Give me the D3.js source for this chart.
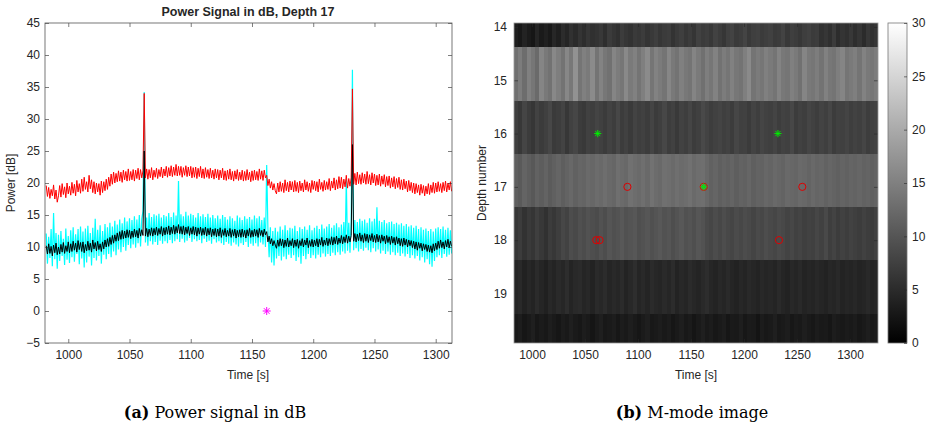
<!DOCTYPE html>
<html lang="en">
<head>
<meta charset="UTF-8">
<title>Power signal and M-mode image</title>
<script src="https://cdn.jsdelivr.net/npm/d3@7"></script>
<style>
  body { margin: 0; background: #fff; }
  svg text { font-family: 'Liberation Sans', Arial, sans-serif; fill: #262626; }
  .caption { font-family: 'DejaVu Serif', serif; font-size: 16px; }
  svg .caption { fill: #000; }
</style>
</head>
<body>
<svg id="chart" width="927" height="426"></svg>
<script>
// ---- left panel: power at depth 17, one sample per second from 982 s
const sampleStart = 982, sampleStep = 1;
const redPower = [
  19.6,17.9,19.3,17.6,19.0,18.0,19.7,17.5,18.9,17.0,
  18.0,19.6,17.8,19.9,18.2,19.4,17.7,20.0,18.3,19.5,
  18.1,20.1,18.4,19.8,18.0,20.4,18.6,19.9,18.4,20.6,
  18.7,20.9,19.0,20.2,18.6,21.2,19.1,20.5,18.5,20.2,
  18.3,20.0,18.6,19.9,18.1,20.3,18.5,20.2,18.8,20.6,
  19.0,20.9,19.5,21.4,19.8,21.7,20.0,21.5,20.2,21.9,
  20.3,21.7,20.1,22.0,20.5,21.8,20.3,22.2,20.4,21.8,
  20.5,22.1,20.3,22.0,20.7,22.3,20.5,22.1,20.8,21.9,
  34.0,20.8,22.2,20.6,22.1,20.8,22.4,20.5,22.0,20.9,
  22.3,20.7,22.1,21.0,22.5,20.8,22.2,21.1,22.6,20.9,
  22.4,21.1,22.7,21.0,22.5,21.2,22.9,21.1,22.6,21.2,
  22.6,20.9,22.4,21.2,22.7,21.0,22.5,21.1,22.6,20.8,
  22.4,20.9,22.5,20.7,22.3,21.0,22.6,20.8,22.2,20.7,
  22.4,20.9,22.1,20.7,22.3,20.8,22.0,20.6,22.2,20.8,
  22.1,20.5,22.0,20.8,22.3,20.5,21.9,20.4,22.0,20.6,
  22.2,20.5,21.8,20.3,21.9,20.6,22.1,20.4,21.7,20.5,
  22.0,20.3,21.8,20.4,22.1,20.5,21.7,20.2,21.9,20.4,
  22.0,20.5,21.8,20.4,22.2,20.6,21.9,20.4,22.0,20.8,
  21.2,19.6,20.6,19.2,20.2,18.9,19.9,18.8,18.3,20.0,
  18.6,20.2,18.7,20.0,18.5,20.5,18.8,20.1,18.6,20.3,
  18.9,20.2,18.6,20.4,18.7,20.1,18.5,20.3,18.8,20.0,
  18.6,20.5,18.9,20.2,18.7,20.0,18.5,20.4,19.0,20.3,
  18.8,20.2,18.6,20.6,19.0,20.1,18.7,20.4,18.9,20.2,
  19.0,20.7,18.8,20.3,19.2,20.8,18.9,20.5,19.1,21.0,
  19.2,20.9,19.1,20.6,19.4,21.2,19.2,20.7,19.5,20.8,
  34.7,19.8,21.5,19.7,21.7,19.9,21.3,19.8,21.6,20.0,
  21.4,19.8,21.8,19.9,21.3,19.7,21.6,20.0,21.4,19.6,
  21.2,19.7,21.4,19.5,21.1,19.8,21.3,19.4,21.0,19.6,
  21.1,19.2,20.8,19.4,21.0,19.1,20.7,19.3,20.9,19.0,
  20.5,18.9,20.6,19.1,20.3,18.6,20.4,18.8,20.1,18.5,
  20.0,18.3,19.9,18.5,19.7,18.1,19.8,18.4,19.6,18.0,
  19.5,18.3,19.9,18.2,19.7,18.5,20.1,18.4,20.0,18.6,
  20.2,18.7,19.9,18.5,20.1,18.8,20.3,18.6,20.0,18.9,20.2,18.7
];
const blackPower = [
  10.2,8.9,10.5,9.0,10.1,8.6,10.3,9.1,10.6,8.8,
  10.0,8.9,10.4,9.2,10.7,9.0,10.2,9.3,10.8,9.1,
  10.5,9.3,10.9,9.5,10.6,9.2,11.0,9.6,10.7,9.3,
  10.8,9.1,10.4,9.4,10.9,9.5,10.6,9.2,11.1,9.7,
  10.7,9.4,10.9,9.6,10.5,9.3,10.8,9.7,11.1,10.0,
  11.3,10.1,11.5,10.4,11.8,10.6,11.9,10.9,12.2,11.0,
  12.4,11.2,12.6,11.3,12.5,11.4,12.7,11.5,12.6,11.3,
  12.5,11.5,12.8,11.6,12.6,11.4,12.9,11.7,12.7,11.8,
  25.0,11.7,12.9,11.6,12.8,11.8,13.0,11.7,12.9,11.9,
  13.1,11.8,12.9,12.0,13.2,11.7,13.0,11.9,13.1,12.0,
  13.3,11.9,13.1,12.1,13.4,12.0,13.2,12.2,13.5,12.1,
  13.2,12.0,13.3,11.9,13.1,12.1,13.2,11.8,13.0,12.0,
  13.2,11.9,13.1,11.7,13.0,12.0,13.1,11.8,12.9,11.9,
  13.1,11.7,12.9,11.9,13.0,11.6,12.8,11.8,12.9,11.6,
  12.8,11.7,13.0,11.5,12.7,11.8,12.9,11.6,12.6,11.7,
  12.9,11.5,12.7,11.7,12.8,11.4,12.6,11.6,12.7,11.5,
  12.8,11.6,12.6,11.4,12.7,11.7,12.9,11.5,12.6,11.6,
  12.8,11.7,12.7,11.5,12.9,11.8,12.6,11.6,12.8,11.9,
  12.4,10.8,11.7,10.5,11.3,10.2,11.0,10.3,9.8,11.1,
  10.1,11.3,10.2,11.2,9.9,11.1,10.1,11.4,10.0,11.0,
  10.2,11.3,9.9,11.1,10.1,11.2,9.8,11.0,10.2,11.3,
  10.0,11.1,10.3,11.4,9.9,11.0,10.1,11.2,10.0,11.1,
  10.2,11.3,10.0,11.2,10.3,11.5,10.1,11.1,10.3,11.4,
  10.2,11.3,10.4,11.6,10.3,11.5,10.5,11.7,10.4,11.4,
  10.6,11.8,10.5,11.6,10.7,11.9,10.6,11.7,10.8,11.8,
  26.0,10.9,12.1,10.8,12.0,11.0,12.2,10.9,11.9,10.7,
  12.1,10.9,12.0,10.7,11.9,11.0,12.1,10.8,11.8,10.7,
  12.0,10.8,11.8,10.6,11.9,10.9,11.7,10.5,11.8,10.7,
  11.6,10.4,11.7,10.6,11.5,10.3,11.6,10.5,11.4,10.2,
  11.3,10.1,11.4,10.3,11.2,10.0,11.1,10.2,11.0,9.9,
  10.9,9.7,10.8,9.5,10.7,9.8,10.6,9.4,10.5,9.6,
  10.4,9.3,10.3,9.2,10.2,9.1,10.5,9.4,10.6,9.6,
  10.9,9.8,11.1,9.9,10.8,9.7,11.0,10.0,11.2,9.9,10.9,10.1
];
const cyanPower = [
  12.1,7.4,11.6,8.3,12.8,7.0,15.3,8.1,12.2,6.6,
  11.9,7.8,12.5,8.6,11.3,7.2,12.9,8.0,11.7,7.5,
  12.6,8.4,13.1,7.7,12.0,8.9,12.8,7.3,13.2,8.2,
  12.4,6.8,12.9,7.6,13.3,8.5,12.2,7.1,13.0,8.3,
  14.4,7.9,12.7,8.6,13.4,7.4,12.5,8.8,13.6,8.1,
  13.1,8.9,13.8,8.4,13.2,9.3,14.1,8.7,13.5,9.6,
  14.3,9.2,13.7,10.0,14.6,9.4,14.0,10.3,14.5,9.8,
  14.2,10.4,14.8,9.9,14.3,10.6,15.0,10.1,14.4,15.6,
  34.2,10.7,14.6,10.2,15.3,10.9,14.7,10.4,15.1,10.8,
  14.9,10.3,15.2,11.0,14.6,10.5,15.0,10.9,14.8,10.6,
  15.3,11.1,14.7,10.6,15.4,10.9,14.9,11.2,20.3,10.8,
  15.1,11.3,14.8,10.7,15.5,11.0,14.9,11.4,15.2,10.8,
  15.0,11.2,14.6,10.9,15.3,11.1,14.8,10.6,15.1,11.3,
  14.7,10.8,15.2,11.0,14.6,10.5,15.0,11.2,14.5,10.7,
  14.9,10.9,14.4,10.6,15.0,10.3,14.7,10.8,14.3,10.5,
  14.8,10.2,14.5,10.7,14.1,10.4,14.9,10.1,14.6,10.6,
  14.2,10.3,14.8,10.8,14.4,10.0,14.7,10.5,14.3,10.2,
  14.9,10.6,14.5,10.1,14.8,10.7,14.2,10.4,14.6,10.0,
  22.8,12.8,8.4,13.1,7.6,12.5,7.1,13.0,8.2,12.4,
  8.6,13.2,7.9,12.7,8.5,13.4,8.1,12.6,8.8,13.0,
  8.3,12.9,8.7,13.3,7.8,12.5,8.4,13.1,7.4,12.8,
  8.6,13.2,8.1,12.7,8.9,13.4,8.3,12.6,8.7,13.0,
  8.2,13.3,8.8,12.8,8.4,13.5,9.0,12.9,8.5,13.2,
  8.9,13.6,8.6,13.0,9.1,13.4,8.7,13.7,9.2,13.1,
  8.8,13.5,9.3,13.9,9.0,20.6,9.4,13.8,9.1,14.0,
  37.7,9.5,14.2,9.8,13.9,9.3,14.4,9.7,14.1,9.4,
  14.3,9.9,13.8,9.5,14.5,9.2,14.0,9.8,14.4,9.3,
  16.2,9.6,14.1,9.0,13.9,9.4,14.2,8.9,13.7,9.3,
  13.9,8.8,14.0,9.2,13.6,8.7,13.8,9.1,13.5,8.6,
  13.7,9.0,13.3,8.5,13.6,8.9,13.2,8.3,13.4,8.7,
  13.0,8.2,13.3,8.6,12.8,7.9,13.1,8.4,12.7,7.6,
  12.9,8.1,12.5,7.3,12.8,6.9,12.4,7.8,12.9,8.4,
  13.1,8.7,12.8,8.3,13.2,8.9,12.7,8.5,13.0,8.8,12.6,9.0
];
const eventTimes = [1162];
const eventPower = [0];

// ---- right panel: M-mode image, one column every mmodeStep seconds
const mmodeStart = 983, mmodeStep = 4;
const rowDepths = [13.88, 14.88, 15.88, 16.88, 17.88, 18.88, 19.88];
const mmodeRow14 = [3.5,2.8,4.1,3.2,2.6,4.4,3.0,3.8,2.9,4.6, 3.7,5.2,4.3,5.8,4.9,6.1,5.3,6.4,5.6,6.0,
  6.6,5.4,6.9,6.2,5.7,7.1,6.3,5.9,6.8,6.5, 7.0,6.1,6.7,7.3,6.4,6.9,7.2,6.0,6.8,7.4,
  6.5,7.1,6.2,7.6,6.9,7.3,6.6,7.8,7.0,6.4, 7.5,7.9,6.8,7.2,8.0,6.7,7.4,7.7,6.9,7.3,
  7.6,6.8,7.1,7.9,6.6,7.4,7.0,6.5,7.3,7.7, 6.9,7.2,5.8,6.4,5.5,6.9,5.2,6.1,5.7,6.6, 5.4,6.2,5.0,6.5,5.8,6.3];
const mmodeRow15 = [13.2,14.6,12.8,15.1,13.9,12.5,15.6,14.2,13.4,16.0, 14.8,13.5,15.9,14.1,17.2,13.8,15.0,14.4,16.3,13.6,
  15.4,14.0,13.3,15.7,14.6,13.9,16.1,14.3,15.2,13.7, 14.9,16.4,13.8,15.3,14.5,13.6,15.8,14.2,13.5,15.0,
  14.1,13.7,15.5,14.4,13.2,14.8,13.9,15.3,13.4,14.6, 13.8,15.2,14.0,13.5,14.9,16.2,13.7,14.5,13.9,15.1,
  14.3,13.6,15.4,14.1,13.8,15.0,14.4,13.3,15.7,14.2, 13.9,14.7,13.5,15.2,14.0,13.6,14.8,15.6,13.8,14.3, 14.9,13.7,15.3,14.2,13.9,14.6];
const mmodeRow16 = [7.4,6.6,8.1,7.0,6.3,7.8,6.9,7.5,8.3,6.8, 7.2,7.9,6.5,7.6,8.2,7.1,6.7,7.7,7.3,8.0,
  7.5,6.9,7.8,7.2,8.4,7.0,7.6,6.8,7.9,7.3, 7.7,7.1,8.0,6.9,7.4,8.3,7.2,7.6,6.7,7.8,
  7.3,8.1,7.0,7.5,8.6,7.9,7.2,7.6,8.0,7.4, 7.8,7.1,8.2,7.5,7.7,6.9,7.9,7.3,8.1,7.6,
  7.4,8.0,7.2,7.8,7.5,8.3,7.0,7.7,7.3,8.1, 7.6,7.2,7.9,7.4,8.2,7.1,7.7,7.5,8.0,7.3, 7.8,7.4,8.1,7.2,7.6,7.9];
const mmodeRow17 = [11.2,10.6,11.8,11.0,10.4,11.5,10.9,11.7,10.7,11.3, 11.9,11.1,11.6,12.2,11.4,12.0,11.8,12.5,12.1,12.7,
  12.3,12.9,12.4,12.0,13.1,12.6,12.2,13.3,12.8,12.5, 13.0,12.4,13.4,12.7,12.3,13.2,12.9,12.5,13.1,12.6,
  12.8,13.3,12.5,12.9,13.0,12.2,11.4,11.9,11.2,11.7, 11.3,11.8,11.0,11.6,11.4,12.0,11.2,11.7,11.5,12.1,
  11.8,12.3,12.0,11.6,12.4,12.1,11.9,12.5,12.2,11.8, 12.3,11.9,12.1,11.5,12.0,11.7,11.3,11.8,11.4,11.9, 11.6,12.0,11.5,11.8,11.3,11.7];
const mmodeRow18 = [6.4,7.1,5.9,6.8,6.2,7.4,6.6,5.8,7.0,6.5, 7.3,8.4,7.8,9.0,8.6,9.4,8.9,9.7,9.2,8.8,
  9.6,9.1,10.0,9.4,9.8,10.3,9.5,9.9,10.2,9.3, 9.7,10.1,9.4,9.9,10.4,9.6,10.0,9.2,9.8,10.3,
  9.5,9.9,9.3,10.1,9.6,8.7,8.2,8.9,8.4,9.0, 8.5,8.1,8.8,8.3,8.9,8.6,8.0,8.7,8.4,9.1,
  8.6,8.2,8.8,8.5,7.9,8.3,7.6,8.0,7.4,7.8, 7.5,8.2,7.7,8.6,7.3,7.9,7.1,7.6,7.2,7.8, 7.4,7.0,7.7,7.2,6.9,7.5];
const mmodeRow19 = [4.3,4.8,3.9,4.6,4.1,5.0,4.4,3.8,4.7,4.2, 4.9,4.5,5.3,4.2,4.8,5.1,4.4,4.7,4.0,4.9,
  4.6,5.2,4.3,4.8,4.5,5.0,4.1,4.7,5.4,4.4, 4.8,4.2,5.1,4.6,4.3,4.9,4.5,5.2,4.1,4.7,
  4.4,5.0,4.6,4.2,4.8,5.3,4.5,4.1,4.7,4.3, 4.9,4.4,4.0,4.6,4.2,4.8,4.5,4.1,4.7,4.3,
  4.6,4.2,4.9,4.4,4.0,4.7,4.3,4.8,4.1,4.5, 4.2,4.7,4.4,4.0,4.6,4.3,4.8,4.1,4.5,4.2, 4.6,4.1,4.4,4.8,4.2,4.5];
const mmodeRow20 = [2.9,3.4,2.6,3.1,3.6,2.7,3.2,2.8,3.5,3.0, 2.6,3.3,2.9,3.7,3.1,2.7,3.4,3.0,2.5,3.2,
  3.6,2.8,3.1,3.4,2.7,3.3,2.9,3.5,3.0,2.6, 3.2,3.7,2.8,3.1,3.4,2.9,3.3,2.6,3.0,3.5,
  2.8,3.2,2.5,3.1,3.6,2.9,3.3,2.7,3.0,3.4, 2.6,3.1,2.9,3.5,2.7,3.2,3.0,2.4,3.3,2.8,
  3.1,3.6,2.8,3.0,3.4,2.7,3.2,2.9,3.5,3.0, 2.7,3.3,2.9,3.1,2.6,3.4,3.0,2.8,3.2,2.9, 3.3,2.7,3.1,3.5,2.8,3.0];
const mmodeRows = [mmodeRow14, mmodeRow15, mmodeRow16, mmodeRow17, mmodeRow18, mmodeRow19, mmodeRow20];

const greenStarTimes = [1062, 1232, 1162];
const greenStarDepths = [16, 16, 17];
const redCircleTimes = [1090, 1162, 1255, 1060.6, 1063.7, 1233];
const redCircleDepths = [17, 17, 17, 18, 18, 18];

// ---- ticks
const powerTicks = [-5, 0, 5, 10, 15, 20, 25, 30, 35, 40, 45];
const timeTicks = [1000, 1050, 1100, 1150, 1200, 1250, 1300];
const depthTicks = [14, 15, 16, 17, 18, 19];
const colorTicks = [0, 5, 10, 15, 20, 25, 30];

const svg = d3.select('#chart');
const axisColor = '#262626';
const intFmt = d3.format('d');

function asterisk(r) {
  const d = r * 0.7071;
  return `M${-r},0H${r}M0,${-r}V${r}M${-d},${-d}L${d},${d}M${-d},${d}L${d},${-d}`;
}

function styleAxis(g) {
  g.select('.domain').remove();
  g.selectAll('.tick line').attr('stroke', axisColor).attr('stroke-width', 0.6);
  g.selectAll('.tick text').style('font-size', '12px').attr('fill', axisColor);
}

// ================= left panel =================
const A = { x0: 45, x1: 452, y0: 23, y1: 343 };
const xA = d3.scaleLinear().domain([981, 1313.3]).range([A.x0, A.x1]);
const yA = d3.scaleLinear().domain([-5, 45]).range([A.y1, A.y0]);

svg.append('clipPath').attr('id', 'clipA')
  .append('rect').attr('x', A.x0).attr('y', A.y0).attr('width', A.x1 - A.x0).attr('height', A.y1 - A.y0);

const plotA = svg.append('g').attr('clip-path', 'url(#clipA)');
const lineA = d3.line().x(d => xA(d[0])).y(d => yA(d[1]));
const toPts = arr => arr.map((v, i) => [sampleStart + i * sampleStep, v]);

plotA.append('path').datum(toPts(cyanPower)).attr('d', lineA)
  .attr('fill', 'none').attr('stroke', '#00ffff').attr('stroke-width', 1.2);
plotA.append('path').datum(toPts(redPower)).attr('d', lineA)
  .attr('fill', 'none').attr('stroke', '#ff0000').attr('stroke-width', 1);
plotA.append('path').datum(toPts(blackPower)).attr('d', lineA)
  .attr('fill', 'none').attr('stroke', '#000000').attr('stroke-width', 1);

plotA.selectAll('.event').data(eventTimes).enter().append('path')
  .attr('class', 'event')
  .attr('transform', (d, i) => `translate(${xA(d)},${yA(eventPower[i])})`)
  .attr('d', asterisk(4))
  .attr('stroke', '#ff00ff').attr('stroke-width', 1).attr('fill', 'none');

svg.append('g').attr('transform', `translate(0,${A.y1})`)
  .call(d3.axisBottom(xA).tickValues(timeTicks).tickFormat(intFmt).tickSizeInner(-4).tickSizeOuter(0).tickPadding(7))
  .call(styleAxis);
svg.append('g').attr('transform', `translate(0,${A.y0})`)
  .call(d3.axisTop(xA).tickValues(timeTicks).tickSizeInner(-4).tickSizeOuter(0).tickFormat(''))
  .call(styleAxis);
svg.append('g').attr('transform', `translate(${A.x0},0)`)
  .call(d3.axisLeft(yA).tickValues(powerTicks).tickFormat(intFmt).tickSizeInner(-4).tickSizeOuter(0).tickPadding(5))
  .call(styleAxis);
svg.append('g').attr('transform', `translate(${A.x1},0)`)
  .call(d3.axisRight(yA).tickValues(powerTicks).tickSizeInner(-4).tickSizeOuter(0).tickFormat(''))
  .call(styleAxis);

svg.append('rect').attr('x', A.x0).attr('y', A.y0).attr('width', A.x1 - A.x0).attr('height', A.y1 - A.y0)
  .attr('fill', 'none').attr('stroke', '#555').attr('stroke-width', 0.8);

svg.append('text').attr('x', 248).attr('y', 16).attr('text-anchor', 'middle')
  .style('font-size', '12.5px').style('font-weight', 'bold').attr('fill', '#000')
  .text('Power Signal in dB, Depth 17');
svg.append('text').attr('x', 248).attr('y', 379).attr('text-anchor', 'middle')
  .style('font-size', '12px').text('Time [s]');
svg.append('text').attr('transform', 'translate(15,183) rotate(-90)').attr('text-anchor', 'middle')
  .style('font-size', '12px').text('Power [dB]');

// ================= right panel =================
const B = { x0: 514, x1: 878, y0: 23, y1: 343 };
const xB = d3.scaleLinear().domain([983, 1326.4]).range([B.x0, B.x1]);
const yB = d3.scaleLinear().domain([13.925, 19.93]).range([B.y0, B.y1]);
const gray = d3.scaleLinear().domain([0, 30]).range(['#000000', '#ffffff']).clamp(true);

svg.append('clipPath').attr('id', 'clipB')
  .append('rect').attr('x', B.x0).attr('y', B.y0).attr('width', B.x1 - B.x0).attr('height', B.y1 - B.y0);
const plotB = svg.append('g').attr('clip-path', 'url(#clipB)');

const cells = [];
mmodeRows.forEach((row, r) => row.forEach((v, i) => cells.push({ depth: rowDepths[r], t: mmodeStart + i * mmodeStep, v })));

plotB.selectAll('.cell').data(cells).enter().append('rect')
  .attr('class', 'cell')
  .attr('x', d => xB(d.t))
  .attr('width', d => xB(d.t + mmodeStep) - xB(d.t) + 0.4)
  .attr('y', d => yB(d.depth - 0.5))
  .attr('height', d => yB(d.depth + 0.5) - yB(d.depth - 0.5))
  .attr('fill', d => gray(d.v))
  .attr('shape-rendering', 'crispEdges');

plotB.selectAll('.circ').data(redCircleTimes).enter().append('circle')
  .attr('class', 'circ')
  .attr('cx', d => xB(d)).attr('cy', (d, i) => yB(redCircleDepths[i]))
  .attr('r', 3.6).attr('fill', 'none').attr('stroke', '#e00000').attr('stroke-width', 1);
plotB.selectAll('.star').data(greenStarTimes).enter().append('path')
  .attr('class', 'star')
  .attr('transform', (d, i) => `translate(${xB(d)},${yB(greenStarDepths[i])})`)
  .attr('d', asterisk(3.6))
  .attr('stroke', '#00ee00').attr('stroke-width', 1).attr('fill', 'none');

svg.append('g').attr('transform', `translate(0,${B.y1})`)
  .call(d3.axisBottom(xB).tickValues(timeTicks).tickFormat(intFmt).tickSizeInner(-4).tickSizeOuter(0).tickPadding(7))
  .call(styleAxis);
svg.append('g').attr('transform', `translate(0,${B.y0})`)
  .call(d3.axisTop(xB).tickValues(timeTicks).tickSizeInner(-4).tickSizeOuter(0).tickFormat(''))
  .call(styleAxis);
svg.append('g').attr('transform', `translate(${B.x0},0)`)
  .call(d3.axisLeft(yB).tickValues(depthTicks).tickFormat(intFmt).tickSizeInner(-4).tickSizeOuter(0).tickPadding(7))
  .call(styleAxis);
svg.append('g').attr('transform', `translate(${B.x1},0)`)
  .call(d3.axisRight(yB).tickValues(depthTicks).tickSizeInner(-4).tickSizeOuter(0).tickFormat(''))
  .call(styleAxis);

svg.append('rect').attr('x', B.x0).attr('y', B.y0).attr('width', B.x1 - B.x0).attr('height', B.y1 - B.y0)
  .attr('fill', 'none').attr('stroke', '#999').attr('stroke-width', 0.8);

svg.append('text').attr('x', 696).attr('y', 379).attr('text-anchor', 'middle')
  .style('font-size', '12px').text('Time [s]');
svg.append('text').attr('transform', 'translate(486,183) rotate(-90)').attr('text-anchor', 'middle')
  .style('font-size', '12px').text('Depth number');

// colorbar
const C = { x0: 888, x1: 907, y0: 23, y1: 343 };
const yC = d3.scaleLinear().domain([0, 30]).range([C.y1, C.y0]);
const grad = svg.append('defs').append('linearGradient').attr('id', 'cbar')
  .attr('x1', 0).attr('y1', 1).attr('x2', 0).attr('y2', 0);
grad.selectAll('stop').data(colorTicks).enter().append('stop')
  .attr('offset', d => d / 30).attr('stop-color', d => gray(d));
svg.append('rect').attr('x', C.x0).attr('y', C.y0).attr('width', C.x1 - C.x0).attr('height', C.y1 - C.y0)
  .attr('fill', 'url(#cbar)').attr('stroke', '#777').attr('stroke-width', 0.8);
svg.append('g').attr('transform', `translate(${C.x1},0)`)
  .call(d3.axisRight(yC).tickValues(colorTicks).tickFormat(intFmt).tickSizeInner(-3).tickSizeOuter(0).tickPadding(5))
  .call(styleAxis);

// ================= captions =================
const capA = svg.append('text').attr('class', 'caption').attr('x', 215).attr('y', 418).attr('text-anchor', 'middle');
capA.append('tspan').style('font-weight', 'bold').text('(a)');
capA.append('tspan').text(' Power signal in dB');
const capB = svg.append('text').attr('class', 'caption').attr('x', 692).attr('y', 418).attr('text-anchor', 'middle');
capB.append('tspan').style('font-weight', 'bold').text('(b)');
capB.append('tspan').text(' M-mode image');
</script>
</body>
</html>
